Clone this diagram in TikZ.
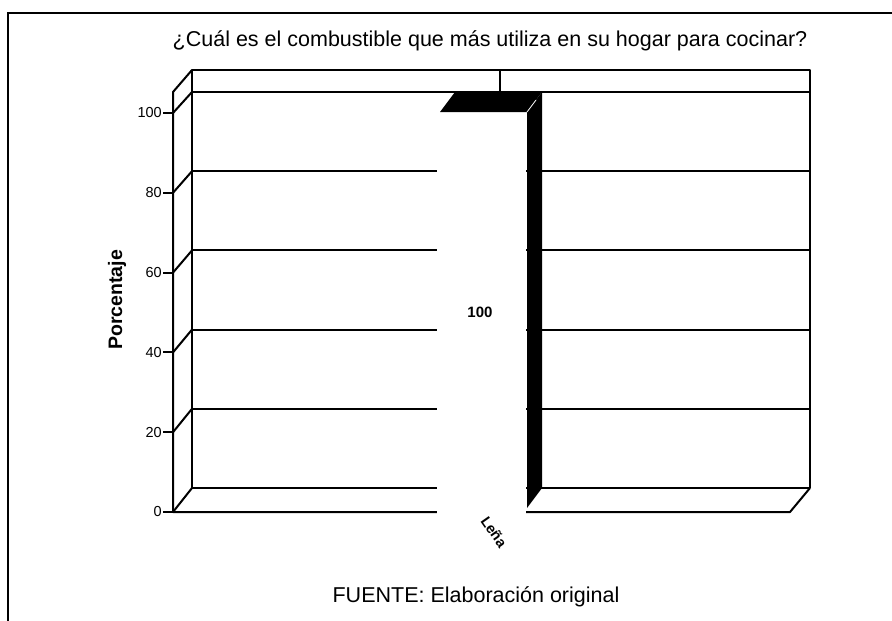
\documentclass[tikz,border=0pt]{standalone}
\usepackage{fontspec}
\setmainfont{Liberation Sans}
\begin{document}
\begin{tikzpicture}[x=1pt,y=-1pt,
  frameline/.style={line width=2pt},
  axisline/.style={line width=2pt, line join=round},
  gridline/.style={line width=2pt},
  ticklab/.style={anchor=east, font=\fontsize{14.5}{16}\selectfont, inner sep=0pt},
  bigtext/.style={font=\fontsize{21.5}{24}\selectfont, inner sep=0pt},
]
\useasboundingbox (0,0) rectangle (892,621);
% outer frame
\draw[frameline] (8,621) -- (8,13) -- (892,13);
\node[bigtext] (title) at (490,41) {¿Cuál es el combustible que más utiliza en su hogar para cocinar?};
% grid lines, ticks and labels
\foreach \v in {0,20,...,100} {
  \pgfmathsetmacro{\yb}{488-3.96*\v}
  \pgfmathsetmacro{\yf}{512-3.99*\v}
  \draw[gridline] (192,\yb) -- (810,\yb);
  \draw[axisline] (173,\yf) -- (192,\yb);
  \draw[gridline] (163,\yf) -- (173,\yf);
  \node[ticklab] at (162,\yf) {\v};
}
% walls
\coordinate (bwbl) at (192,488);
\coordinate (bwtl) at (192,70);
\coordinate (bwtr) at (810,70);
\coordinate (bwbr) at (810,488);
\coordinate (sptl) at (173,92);
\coordinate (fbl) at (173,512);
\coordinate (fbr) at (790,512);
\draw[axisline] (bwbl) -- (bwtl) -- (bwtr) -- (bwbr);
\draw[axisline] (bwtl) -- (sptl) -- (fbl) -- (fbr) -- (bwbr);
\draw[gridline] (500,70) -- (500,92);
% bar
\fill[white] (437,112) rectangle (526,514);
\fill[black] (440,112) -- (455,92) -- (542,92) -- (527,112) -- cycle;
\fill[black] (527,112) -- (542,92) -- (542,488) -- (527,508) -- cycle;
\draw[white, line width=0.8pt] (527,112) -- (536,100);
\node[font=\bfseries\fontsize{15}{17}\selectfont, inner sep=0pt] (barlab) at (480,312) {100};
\node[rotate=90, font=\bfseries\fontsize{19.5}{21}\selectfont, inner sep=0pt] (ylab) at (117,300) {Porcentaje};
\node[rotate=-55, font=\bfseries\fontsize{14.5}{16}\selectfont, inner sep=0pt] (cat) at (494,532) {Leña};
\node[bigtext] (src) at (476,597) {FUENTE: Elaboración original};
\end{tikzpicture}
\end{document}
